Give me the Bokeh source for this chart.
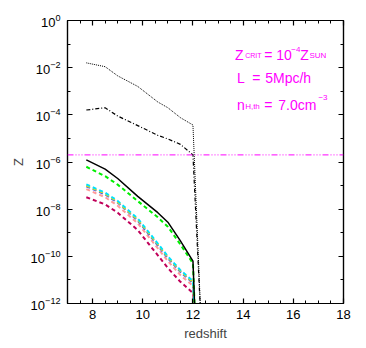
from bokeh.plotting import figure
from bokeh.models import (FixedTicker, LogTickFormatter, LinearAxis, LogAxis, Span, Label)
from bokeh.embed import file_html
from bokeh.resources import INLINE

# ---------------- data ----------------
redshift = [7.75, 8.5, 9.0, 9.8, 10.6, 11.0, 11.5, 12.0]
z_cut_max = 12.33   # next snapshot for max / dash-dot curves (metallicity ~0)
z_cut = 12.1        # next snapshot for the other curves
z_zero = 1e-13

z_max = [1.6e-2, 1.1e-2, 4.5e-3, 1.6e-3, 3.5e-4, 2.0e-4, 7.6e-5, 3.7e-5]
z_dashdot = [1.6e-4, 2.0e-4, 8.9e-5, 3.5e-5, 1.35e-5, 9.5e-6, 5.6e-6, 2.0e-6]
z_solid = [1.23e-6, 5.0e-7, 2.0e-7, 3.5e-8, 7.1e-9, 2.8e-9, 4.5e-10, 6.3e-11]
z_green = [6.3e-7, 2.5e-7, 1.1e-7, 2.2e-8, 4.5e-9, 1.8e-9, 3.2e-10, 5.0e-11]
z_cyan = [1.12e-7, 5.0e-8, 2.24e-8, 4.0e-9, 3.5e-10, 1.0e-10, 2.6e-11, 8.9e-12]
z_yellow = [1.0e-7, 4.6e-8, 2.0e-8, 3.6e-9, 3.2e-10, 9.1e-11, 2.4e-11, 8.1e-12]
z_blue = [9.3e-8, 4.2e-8, 1.9e-8, 3.3e-9, 2.9e-10, 8.3e-11, 2.2e-11, 7.4e-12]
z_salmon = [7.1e-8, 3.2e-8, 1.4e-8, 2.5e-9, 2.2e-10, 6.3e-11, 1.6e-11, 5.6e-12]
z_maroon = [3.2e-8, 1.6e-8, 7.1e-9, 1.3e-9, 1.1e-10, 3.2e-11, 8.3e-12, 2.8e-12]

z_crit = 2e-6

x_ticks = [8, 10, 12, 14, 16, 18]
x_minor = [7.5, 8.5, 9, 9.5, 10.5, 11, 11.5, 12.5, 13, 13.5, 14.5, 15, 15.5, 16.5, 17, 17.5]
y_ticks = [1e-12, 1e-10, 1e-8, 1e-6, 1e-4, 1e-2, 1e0]
y_minor = [1e-11, 1e-9, 1e-7, 1e-5, 1e-3, 1e-1]

# ---------------- figure ----------------
FONT = "Liberation Sans"
p = figure(width=352, height=338, output_backend="svg", toolbar_location=None,
           x_range=(7, 18), y_range=(1e-12, 1e0), y_axis_type="log",
           frame_width=276, frame_height=283,
           min_border_left=67, min_border_right=9, min_border_top=20, min_border_bottom=35,
           background_fill_color="white", border_fill_color="white")
p.xgrid.visible = False
p.ygrid.visible = False
p.outline_line_color = "black"
p.outline_line_width = 1.2


def style_axis(ax, labels=True):
    ax.major_tick_in = 5
    ax.major_tick_out = 0
    ax.minor_tick_in = 3
    ax.minor_tick_out = 0
    ax.axis_line_color = "black"
    ax.axis_line_width = 1.2
    ax.major_tick_line_width = 1.2
    ax.major_tick_line_color = "black"
    ax.minor_tick_line_color = "black"
    ax.major_label_text_font = FONT
    ax.major_label_text_color = "black"
    ax.axis_label_text_font = FONT
    ax.axis_label_text_font_size = "13px"
    ax.axis_label_text_font_style = "normal"
    if labels:
        ax.major_label_text_font_size = "13px"
    else:
        ax.major_label_text_font_size = "1px"
        ax.major_label_text_alpha = 0
        ax.major_label_standoff = 0


xt = FixedTicker(ticks=x_ticks, minor_ticks=x_minor)
yt = FixedTicker(ticks=y_ticks, minor_ticks=y_minor)

p.xaxis.ticker = xt
p.yaxis.ticker = yt
p.yaxis.formatter = LogTickFormatter()
p.xaxis.axis_label = "redshift"
p.yaxis.axis_label = "Z"
style_axis(p.xaxis[0])
style_axis(p.yaxis[0])
p.xaxis.major_label_standoff = 6
p.yaxis.major_label_standoff = 7
p.xaxis.axis_label_standoff = 4
p.yaxis.axis_label_standoff = 2

top = LinearAxis(ticker=xt)
style_axis(top, labels=False)
p.add_layout(top, "above")
right = LogAxis(ticker=yt, formatter=LogTickFormatter())
style_axis(right, labels=False)
p.add_layout(right, "right")

# ---------------- lines ----------------
def ext(vals, zc):
    return redshift + [zc], vals + [z_zero]

dash = "4 3"
for vals, col in [(z_maroon, "#c0005a"), (z_salmon, "#ff9a9a"), (z_blue, "#3050ff"),
                  (z_yellow, "#f0e000"), (z_cyan, "#00e0ff")]:
    xs, ys = ext(vals, z_cut)
    p.line(xs, ys, line_color=col, line_width=2, line_dash=dash)

xs, ys = ext(z_green, z_cut)
p.line(xs, ys, line_color="#00ee00", line_width=2, line_dash=dash)
xs, ys = ext(z_solid, z_cut)
p.line(xs, ys, line_color="black", line_width=1.5)
xs, ys = ext(z_max, z_cut_max)
p.line(xs, ys, line_color="black", line_width=1, line_dash="1 1")
xs, ys = ext(z_dashdot, z_cut_max)
p.line(xs, ys, line_color="black", line_width=1.2, line_dash="4 2 1 2")

p.add_layout(Span(location=z_crit, dimension="width", line_color="#ff00ff",
                  line_width=1, line_dash="6 2 1 2 1 2 1 2"))

# ---------------- annotations ----------------
MAG = "#ff00ff"
X0, Y0 = 70.0, 21.0     # frame origin on page (px)
PX_X, PX_Y = 25.0, 23.5  # px per redshift unit / per decade


def lab(text, px, py, size):
    zx = 7 + (px - X0) / PX_X
    zy = 10 ** (-(py - Y0) / PX_Y)
    p.add_layout(Label(x=zx, y=zy, text=text, text_color=MAG, text_font=FONT,
                       text_font_size=size, text_baseline="alphabetic"))

big = "14px"
# line 1
lab("Z", 237, 55, big)
lab("CRIT", 247, 56, "7px")
lab("=", 266, 55, big)
lab("10", 278, 55, big)
lab("\u22124", 293, 50, "8px")
lab("Z", 302, 55, big)
lab("SUN", 311, 56, "8px")
# line 2
lab("L", 239, 78, big)
lab("=", 254, 78, big)
lab("5Mpc/h", 267, 78, big)
# line 3
lab("n", 239, 105, big)
lab("H,th", 247, 107, "8px")
lab("=", 266, 105, big)
lab("7.0cm", 280, 105, big)
lab("\u22123", 320, 98, "8px")

open("out.html", "w").write(file_html(p, INLINE))
